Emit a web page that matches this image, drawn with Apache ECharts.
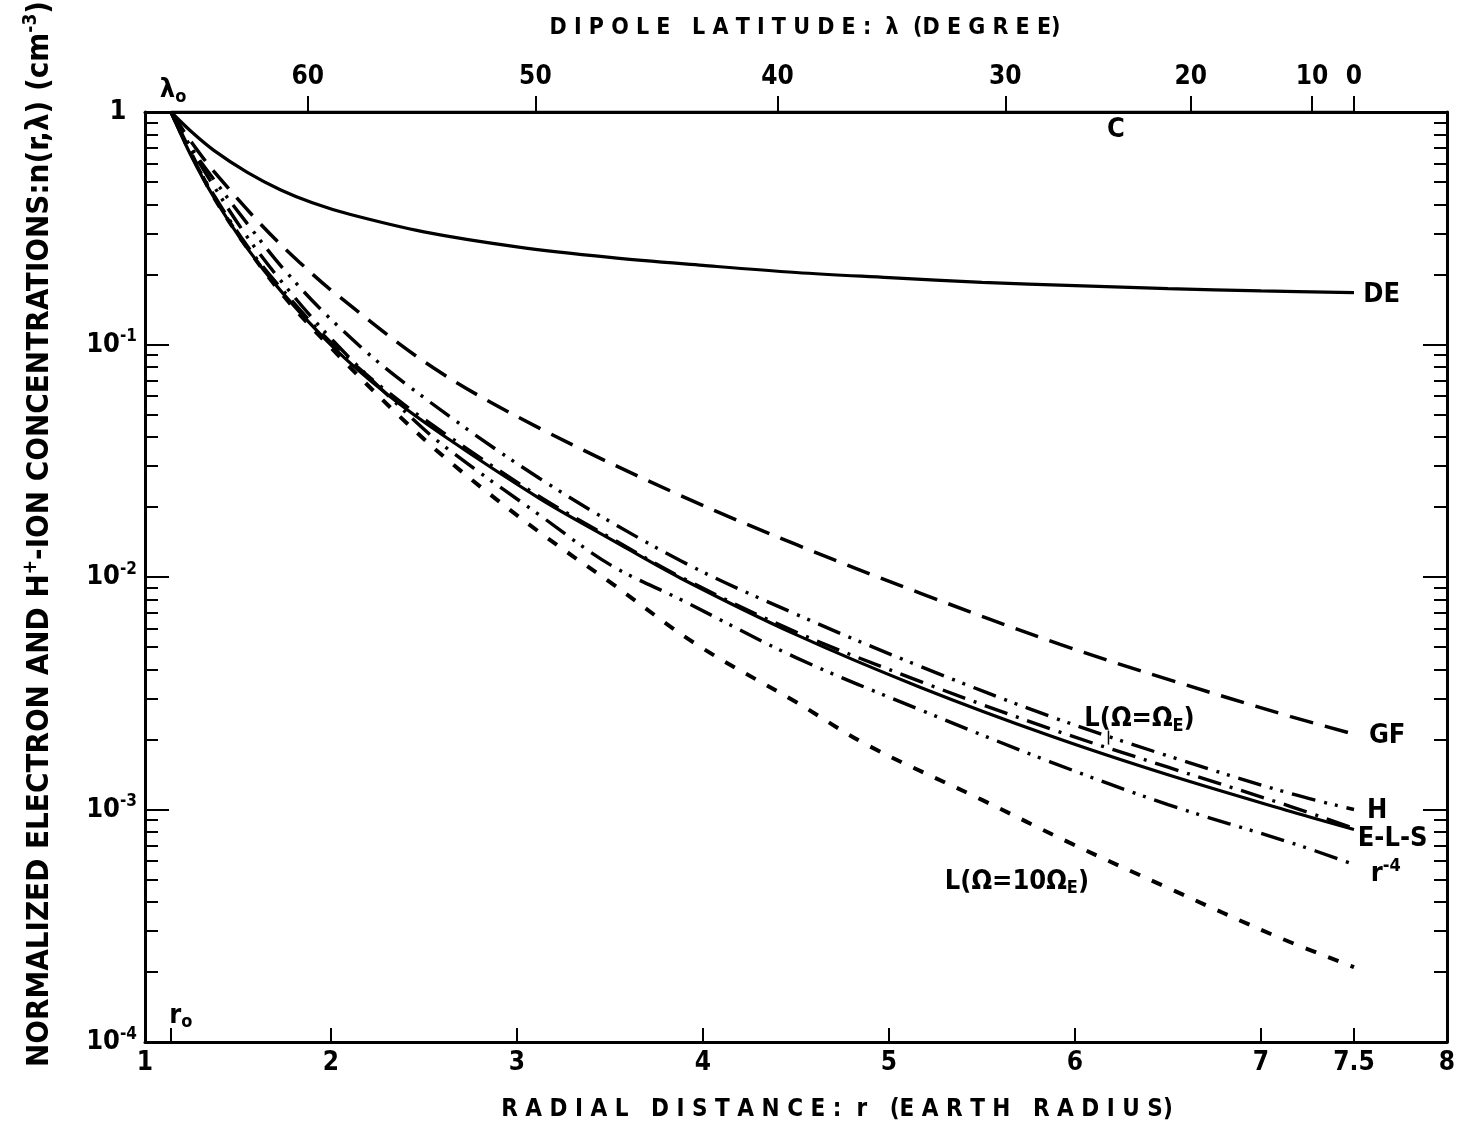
<!DOCTYPE html>
<html><head><meta charset="utf-8">
<script src="https://cdn.jsdelivr.net/npm/echarts@6/dist/echarts.min.js"></script>
<style>html,body{margin:0;padding:0;background:#fff}#c{width:1462px;height:1128px}</style>
</head><body><div id="c"></div>
<script>
// ---------- data ----------
const r0 = 1.14;            // footpoint radius (λo)
const L_SHELL = 7.5;        // field line: r = 7.5 cos^2 λ

const R_C  = [1.14, 7.5];
const N_C  = [1, 1];

const R_DE = [1.14,1.25,1.37,1.55,1.73,1.9,2.1,2.5,3,3.5,4,4.5,5,5.5,6,6.5,7,7.5];
const N_DE = [1,0.822,0.684,0.550,0.462,0.407,0.363,0.305,0.263,0.237,0.219,0.204,0.194,0.185,0.179,0.174,0.170,0.167];

const R_GF = [1.14,1.25,1.37,1.63,1.83,2.03,2.55,3.12,3.88,4.5,5.17,5.92,6.5,7.16,7.5];
const N_GF = [1,0.741,0.556,0.324,0.226,0.164,0.0794,0.0437,0.0224,0.0138,0.00851,0.00513,0.00363,0.00251,0.00211];

const R_H = [1.14,1.25,1.37,1.55,1.75,2.01,2.37,3.12,3.88,4.5,5.17,5.87,6.5,7.16,7.5];
const N_H = [1,0.70,0.513,0.331,0.209,0.126,0.0708,0.0266,0.01175,0.00692,0.00412,0.00251,0.0017,0.00117,0.00100];

const R_ELS = [1.14,1.25,1.37,1.55,1.73,2.01,2.3,2.6,3.12,3.5,3.88,4.5,5.17,5.87,6.5,7.16,7.5];
const N_ELS = [1,0.643,0.430,0.259,0.170,0.0977,0.0612,0.0408,0.0218,0.0146,0.00988,0.00565,0.00335,0.00207,0.00141,0.00098,0.00082];

const R_R4 = [1.14,1.25,1.37,1.55,1.75,2.01,2.37,2.6,3.12,3.5,3.88,4.5,5.17,5.87,6.5,7.16,7.5];
const N_R4 = [1,0.69,0.48,0.29,0.18,0.104,0.054,0.037,0.0185,0.0113,0.0080,0.0045,0.00268,0.0016,0.00105,0.00072,0.00058];

const R_L1 = [1.14,1.25,1.37,1.55,1.73,2.01,2.3,2.6,3.12,3.5,3.88,4.5,5.17,5.87,6.5,7.16,7.5];
const N_L1 = [1,0.65,0.44,0.265,0.175,0.100,0.063,0.042,0.0222,0.0148,0.0100,0.0058,0.00355,0.00222,0.00152,0.00103,0.00083];

const R_L10 = [1.14,1.25,1.37,1.55,1.75,2.01,2.37,2.66,3.12,3.5,3.97,4.5,4.88,5.5,5.97,6.5,7.09,7.5];
const N_L10 = [1,0.66,0.43,0.26,0.16,0.095,0.049,0.0303,0.0156,0.0095,0.0051,0.0029,0.0019,0.0011,0.00072,0.00046,0.000283,0.00021];

// tick labels
const R_TICKS = [1,2,3,4,5,6,7,7.5,8];
const LAT_TICKS = [60,50,40,30,20,10,0];
const Y_DECADES = [1e-4,1e-3,1e-2,1e-1,1];
const Y_MINOR = [];
[1e-4,1e-3,1e-2,1e-1].forEach(d => { for (let k = 2; k <= 9; k++) Y_MINOR.push(+(k*d).toPrecision(3)); });

// ---------- chart ----------
const FONT = "'DejaVu Sans Condensed','Liberation Sans Narrow','DejaVu Sans',sans-serif";
const pairs = (R, N) => R.map((r, i) => [r, N[i]]);
const LAT_R = LAT_TICKS.map(l => L_SHELL * Math.pow(Math.cos(l * Math.PI / 180), 2));

const chart = echarts.init(document.getElementById('c'), null, {renderer: 'canvas'});
const axisLineStyle = {color: '#000', width: 3};
const supRich = {
  b: {fontSize: 27, fontWeight: 'bold', fontFamily: FONT, color: '#000', lineHeight: 32, verticalAlign: 'middle'},
  s: {fontSize: 17, fontWeight: 'bold', fontFamily: FONT, color: '#000', lineHeight: 17, verticalAlign: 'top'}
};
function yFmt(v) {
  const e = Math.round(Math.log10(v));
  if (e === 0) return '{b|1}{s|  }';
  return '{b|10}{s|' + e + '}';
}
function mkLine(name, R, N, type, width) {
  return {
    name, type: 'line', xAxisIndex: 0, yAxisIndex: 0,
    data: pairs(R, N), showSymbol: false, symbol: 'none', smooth: 0.35,
    lineStyle: {color: '#000', width: width || 3, type: type},
    silent: true, z: 3
  };
}
const tickLbl = {color: '#000', fontSize: 26, fontWeight: 'bold', fontFamily: FONT};

const option = {
  animation: false,
  backgroundColor: '#fff',
  grid: {left: 145, right: 15, top: 112, bottom: 86},
  xAxis: [
    {
      type: 'value', position: 'bottom', min: 1, max: 8,
      axisLine: {lineStyle: axisLineStyle},
      axisTick: {inside: true, length: 14, lineStyle: {color: '#000', width: 2}, customValues: [r0].concat(R_TICKS)},
      axisLabel: Object.assign({customValues: R_TICKS, margin: 8, formatter: v => String(v)}, tickLbl),
      splitLine: {show: false}
    },
    {
      type: 'value', position: 'top', min: 1, max: 8,
      axisLine: {lineStyle: axisLineStyle},
      axisTick: {inside: false, length: 16, lineStyle: {color: '#000', width: 2}, customValues: LAT_R},
      axisLabel: Object.assign({customValues: LAT_R, margin: 22,
        formatter: v => {
          let best = 0, bd = 1e9;
          LAT_R.forEach((r, i) => { const d = Math.abs(r - v); if (d < bd) { bd = d; best = i; } });
          return String(LAT_TICKS[best]);
        }}, tickLbl),
      splitLine: {show: false}
    }
  ],
  yAxis: [
    {
      type: 'log', logBase: 10, min: 1e-4, max: 1, position: 'left',
      axisLine: {lineStyle: axisLineStyle},
      axisTick: {inside: true, length: 24, lineStyle: {color: '#000', width: 2}, customValues: Y_DECADES},
      axisLabel: {customValues: Y_DECADES, margin: 8, formatter: yFmt, rich: supRich},
      splitLine: {show: false}, minorTick: {show: false}
    },
    {
      type: 'log', logBase: 10, min: 1e-4, max: 1, position: 'left',
      axisLine: {show: false},
      axisTick: {inside: true, length: 13, lineStyle: {color: '#000', width: 2}, customValues: Y_MINOR},
      axisLabel: {show: false}, splitLine: {show: false}
    },
    {
      type: 'log', logBase: 10, min: 1e-4, max: 1, position: 'right',
      axisLine: {lineStyle: axisLineStyle},
      axisTick: {inside: true, length: 24, lineStyle: {color: '#000', width: 2}, customValues: Y_DECADES},
      axisLabel: {show: false}, splitLine: {show: false}
    },
    {
      type: 'log', logBase: 10, min: 1e-4, max: 1, position: 'right',
      axisLine: {show: false},
      axisTick: {inside: true, length: 13, lineStyle: {color: '#000', width: 2}, customValues: Y_MINOR},
      axisLabel: {show: false}, splitLine: {show: false}
    }
  ],
  series: [
    mkLine('C', R_C, N_C, 'solid', 3),
    mkLine('DE', R_DE, N_DE, 'solid', 3.2),
    mkLine('GF', R_GF, N_GF, [24, 12], 3.5),
    mkLine('H', R_H, N_H, [24, 9, 3, 8, 3, 9], 3.4),
    mkLine('E-L-S', R_ELS, N_ELS, 'solid', 3.2),
    mkLine('r-4', R_R4, N_R4, [24, 9, 3, 8, 3, 9], 3.4),
    mkLine('L1', R_L1, N_L1, [24, 9, 3, 9], 3.4),
    mkLine('L10', R_L10, N_L10, [11, 13], 4)
  ]
};
chart.setOption(option);

// ---------- text labels anchored in data space ----------
const LBL = {fontSize: 27, fontWeight: 'bold', fontFamily: FONT, color: '#000', lineHeight: 32, verticalAlign: 'middle'};
const richLbl = {
  b: LBL,
  sub: {fontSize: 18, fontWeight: 'bold', fontFamily: FONT, color: '#000', lineHeight: 18, verticalAlign: 'bottom'},
  sup: {fontSize: 18, fontWeight: 'bold', fontFamily: FONT, color: '#000', lineHeight: 18, verticalAlign: 'top'}
};
const labels = [
  {at: [6.22, 0.84], text: '{b|C}', align: 'center'},
  {at: [7.55, 0.163], text: '{b|DE}', align: 'left'},
  {at: [7.58, 0.00208], text: '{b|GF}', align: 'left'},
  {at: [6.05, 0.00245], text: '{b|L(Ω=Ω}{sub|E}{b|)}', align: 'left'},
  {at: [7.57, 0.00099], text: '{b|H}', align: 'left'},
  {at: [7.52, 0.00075], text: '{b|E-L-S}', align: 'left'},
  {at: [7.59, 0.00053], text: '{b|r}{sup|-4}', align: 'left'},
  {at: [5.3, 0.00049], text: '{b|L(Ω=10Ω}{sub|E}{b|)}', align: 'left'},
  {at: [1.13, 1.3e-4], text: '{b|r}{sub|o}', align: 'left'}
];
const graphics = labels.map(l => {
  const p = chart.convertToPixel({xAxisIndex: 0, yAxisIndex: 0}, l.at);
  return {type: 'text', x: p[0], y: p[1], z: 10,
    style: {text: l.text, rich: richLbl, align: l.align, verticalAlign: 'middle', fill: '#000'}};
});
// λo on the top axis
const pl = chart.convertToPixel({xAxisIndex: 1}, r0);
graphics.push({type: 'text', x: pl + 2, y: 90, z: 10,
  style: {text: '{b|λ}{sub|o}', rich: richLbl, align: 'center', verticalAlign: 'middle'}});
// small arrow from L(Ω=ΩE) label to its curve
const pa = chart.convertToPixel({xAxisIndex: 0, yAxisIndex: 0}, [6.18, 0.0021]);
graphics.push({type: 'line', z: 10, shape: {x1: pa[0], y1: pa[1] - 4, x2: pa[0], y2: pa[1] + 10},
  style: {stroke: '#000', lineWidth: 1.5}});
// titles
graphics.push({type: 'text', x: 805, y: 28, style: {text: 'D I P O L E   L A T I T U D E :  λ  (D E G R E E)',
  font: "bold 23px " + FONT, align: 'center', verticalAlign: 'middle', fill: '#000'}});
graphics.push({type: 'text', x: 837, y: 1110, style: {text: 'R A D I A L   D I S T A N C E :  r   (E A R T H   R A D I U S)',
  font: "bold 24px " + FONT, align: 'center', verticalAlign: 'middle', fill: '#000'}});
graphics.push({type: 'text', x: 40, y: 534, rotation: Math.PI / 2,
  style: {text: '{t|NORMALIZED ELECTRON AND H}{ts|+}{t|-ION CONCENTRATIONS:n(r,λ) (cm}{ts|-3}{t|)}',
    rich: {t: {fontSize: 31, fontWeight: 'bold', fontFamily: FONT, color: '#000', lineHeight: 36, verticalAlign: 'middle'},
           ts: {fontSize: 19, fontWeight: 'bold', fontFamily: FONT, color: '#000', lineHeight: 19, verticalAlign: 'top'}},
    align: 'center', verticalAlign: 'middle'}});
chart.setOption({graphic: graphics});
</script>
</body></html>
